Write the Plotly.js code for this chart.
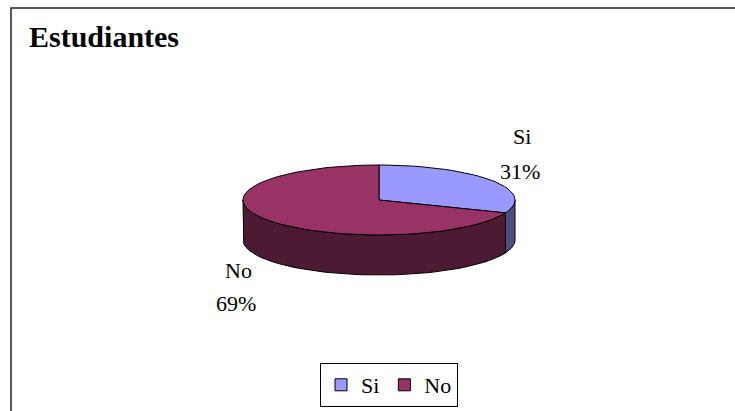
<!DOCTYPE html>
<html>
<head>
<meta charset="utf-8">
<script src="https://cdn.plot.ly/plotly-3.0.1.min.js"></script>
<style>html,body{margin:0;padding:0;background:#fff;}#chart{width:735px;height:411px;}</style>
</head>
<body>
<div id="chart"></div>
<script>
// ---- data ----
const title = 'Estudiantes';
const categories = ['Si', 'No'];
const values = [31, 69];
const topColors = ['#9999FF', '#993366'];
const sideColors = ['#4D4D80', '#4D1A33'];

// ---- geometry of the tilted pie (in axis units; 1 unit = horizontal radius) ----
const RY = 35 / 136;     // vertical radius of the top ellipse
const DEPTH = 40 / 136;  // thickness of the pie
const STEPS = 120;

function arc(a, b, dz) {
  const xs = [], ys = [];
  const n = Math.max(2, Math.ceil(STEPS * Math.abs(b - a) / (2 * Math.PI)));
  for (let i = 0; i <= n; i++) {
    const t = a + (b - a) * i / n;
    xs.push(Math.sin(t));
    ys.push(Math.cos(t) * RY - dz);
  }
  return [xs, ys];
}

const total = values.reduce((s, v) => s + v, 0);
const angles = [];
let acc = 0;
values.forEach(v => { const a = acc / total * 2 * Math.PI; acc += v; angles.push([a, acc / total * 2 * Math.PI]); });

const traces = [];
// side walls (front half only)
angles.forEach(([a, b], i) => {
  const s = Math.max(a, Math.PI / 2), e = Math.min(b, 3 * Math.PI / 2);
  if (e <= s) return;
  const [tx, ty] = arc(s, e, 0);
  const [bx, by] = arc(e, s, DEPTH);
  traces.push({
    type: 'scatter', mode: 'lines', x: tx.concat(bx, [tx[0]]), y: ty.concat(by, [ty[0]]),
    fill: 'toself', fillcolor: sideColors[i], line: {color: '#000', width: 1},
    showlegend: false, hoverinfo: 'skip'
  });
});
// top faces
angles.forEach(([a, b], i) => {
  const [ax, ay] = arc(a, b, 0);
  traces.push({
    type: 'scatter', mode: 'lines', x: [0].concat(ax, [0]), y: [0].concat(ay, [0]),
    fill: 'toself', fillcolor: topColors[i], line: {color: '#000', width: 1},
    showlegend: false, hoverinfo: 'skip'
  });
});
// legend entries
categories.forEach((c, i) => {
  traces.push({
    type: 'scatter', mode: 'markers', x: [null], y: [null], name: c,
    marker: {symbol: 'square', size: 12, color: topColors[i], line: {color: '#000', width: 1}},
    hoverinfo: 'skip'
  });
});

const W = 735, H = 411, CX = 379, CY = 200, S = 136;
const font = 'Liberation Serif';
const pct = values.map(v => Math.round(v / total * 100) + '%');
const px = x => x / W, py = y => 1 - y / H;
const labelPos = [[[522, 136], [520, 172]], [[238, 270], [236, 303]]];
const annotations = [];
categories.forEach((c, i) => {
  annotations.push({xref: 'paper', yref: 'paper', x: px(labelPos[i][0][0]), y: py(labelPos[i][0][1]),
    text: c, showarrow: false, xanchor: 'center', yanchor: 'middle', font: {family: font, size: 22, color: '#000'}});
  annotations.push({xref: 'paper', yref: 'paper', x: px(labelPos[i][1][0]), y: py(labelPos[i][1][1]),
    text: pct[i], showarrow: false, xanchor: 'center', yanchor: 'middle', font: {family: font, size: 22, color: '#000'}});
});

const layout = {
  width: W, height: H,
  margin: {l: 0, r: 0, t: 0, b: 0},
  paper_bgcolor: '#fff', plot_bgcolor: '#fff',
  title: {text: '<b>' + title + '</b>', font: {family: font, size: 30, color: '#000'},
    x: 29 / W, xanchor: 'left', xref: 'container', y: 1 - 36 / H, yanchor: 'middle', yref: 'container'},
  xaxis: {visible: false, range: [-CX / S, (W - CX) / S], fixedrange: true},
  yaxis: {visible: false, range: [-(H - CY) / S, CY / S], fixedrange: true},
  showlegend: true,
  legend: {orientation: 'h', x: 389 / W, y: 1 - 385 / H, xanchor: 'center', yanchor: 'middle',
    bordercolor: '#000', borderwidth: 1, bgcolor: '#fff', itemwidth: 30,
    font: {family: font, size: 22, color: '#000'}},
  shapes: [{type: 'rect', xref: 'paper', yref: 'paper', x0: 11 / W, x1: 1.02, y0: -0.02, y1: 1 - 8 / H,
    line: {color: '#222', width: 1.5}, fillcolor: 'rgba(0,0,0,0)', layer: 'below'}],
  annotations: annotations
};

Plotly.newPlot('chart', traces, layout, {displayModeBar: false, staticPlot: true});
</script>
</body>
</html>
